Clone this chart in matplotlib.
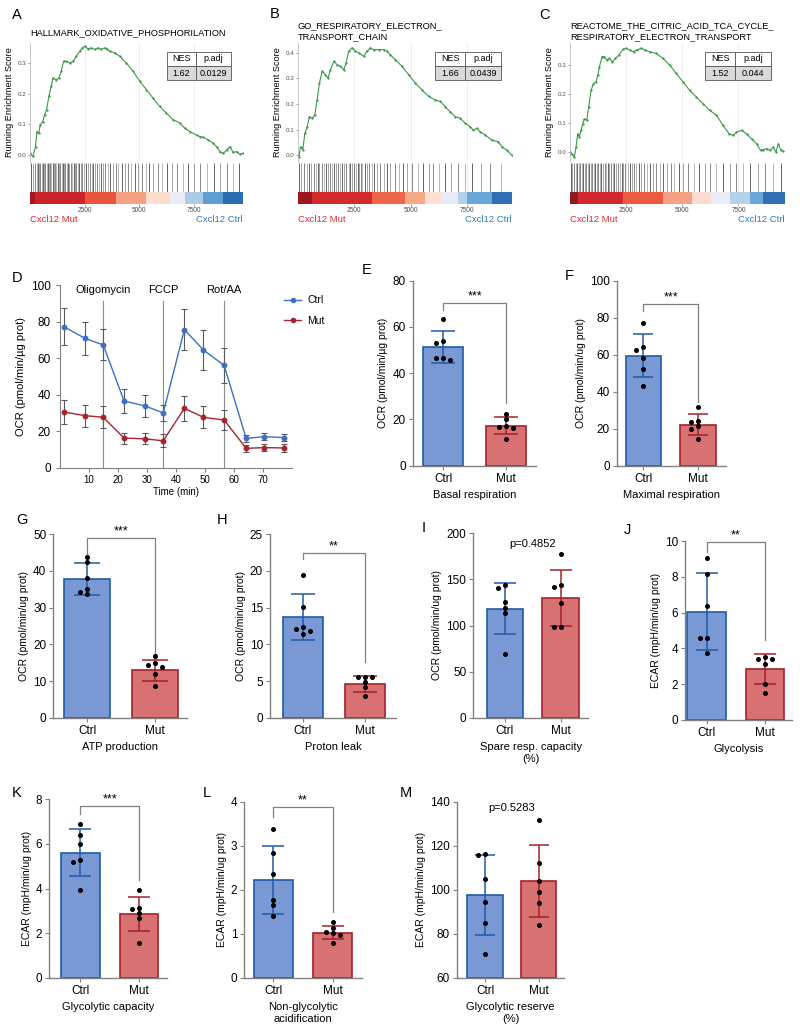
import numpy as np
import matplotlib
matplotlib.use("Agg")
import matplotlib.pyplot as plt
from matplotlib.patches import Rectangle
from matplotlib.lines import Line2D

plt.rcParams['font.family'] = ['Liberation Sans', 'DejaVu Sans']

W, H = 800, 1036
fig = plt.figure(figsize=(W / 100, H / 100), dpi=100)

# ---------------- GSEA data ----------------
A_rank = [0, 130, 252, 313, 400, 466, 589, 665, 760, 864, 971, 1047, 1200, 1323, 1430, 1537, 1659, 1812,
          1965, 2118, 2271, 2393, 2500, 2653, 2806, 2959, 3111, 3264, 3417, 3524, 3647, 3876, 4106, 4411,
          4717, 5023, 5329, 5635, 5940, 6246, 6552, 6858, 7087, 7316, 7622, 7775, 7928, 8157, 8387, 8540,
          8693, 8846, 8998, 9151, 9304, 9457, 9610, 9732]
A_es = [0.005, -0.005, 0.027, 0.076, 0.071, 0.098, 0.109, 0.131, 0.147, 0.191, 0.224, 0.251, 0.245, 0.251,
        0.273, 0.305, 0.305, 0.300, 0.305, 0.322, 0.338, 0.349, 0.354, 0.346, 0.349, 0.344, 0.349, 0.344,
        0.349, 0.346, 0.338, 0.333, 0.322, 0.300, 0.273, 0.240, 0.213, 0.185, 0.158, 0.136, 0.115, 0.104,
        0.087, 0.076, 0.065, 0.060, 0.058, 0.049, 0.038, 0.027, 0.011, 0.005, 0.016, 0.027, 0.008, 0.011,
        0.003, 0.005]
A_hits = [60, 150, 230, 300, 360, 420, 480, 530, 600, 660, 700, 760, 820, 870, 930, 980, 1040, 1100, 1150,
          1210, 1280, 1330, 1390, 1450, 1500, 1560, 1620, 1690, 1750, 1800, 1870, 1930, 2000, 2060, 2120,
          2190, 2250, 2330, 2400, 2480, 2560, 2650, 2730, 2820, 2900, 2990, 3080, 3170, 3260, 3350, 3450,
          3560, 3680, 3800, 3930, 4050, 4200, 4350, 4480, 4640, 4800, 4950, 5120, 5300, 5450, 5650, 5850,
          6050, 6250, 6500, 6750, 7000, 7250, 7500, 7800, 8100, 8400, 8700, 9000, 9300, 9550]
A_edges = [0, 250, 2500, 3950, 5300, 6400, 7090, 7900, 8815, 9750]
A_colors = ['#a8161f', '#cc2229', '#e9553d', '#f4a283', '#fcdccb', '#e8ecf6', '#abcce4', '#5d9ed3', '#2a6db3']

B_rank = [0, 37, 111, 214, 302, 406, 509, 627, 745, 848, 951, 1069, 1217, 1335, 1438, 1586, 1733, 1881, 2028,
          2131, 2249, 2397, 2544, 2692, 2913, 3060, 3208, 3355, 3577, 3798, 3945, 4093, 4314, 4609, 4904,
          5199, 5494, 5789, 6084, 6305, 6527, 6748, 6969, 7190, 7412, 7633, 7780, 7928, 8075, 8296, 8591,
          8886, 9034, 9255, 9476]
B_es = [0.0, -0.007, 0.033, 0.020, 0.085, 0.111, 0.151, 0.144, 0.157, 0.216, 0.282, 0.328, 0.315, 0.302,
        0.334, 0.367, 0.354, 0.348, 0.334, 0.361, 0.407, 0.420, 0.407, 0.400, 0.387, 0.407, 0.420, 0.413,
        0.413, 0.413, 0.407, 0.393, 0.374, 0.348, 0.315, 0.282, 0.256, 0.230, 0.216, 0.210, 0.190, 0.170,
        0.151, 0.144, 0.125, 0.111, 0.098, 0.105, 0.092, 0.079, 0.059, 0.052, 0.033, 0.020, 0.000]
B_hits = [40, 120, 260, 380, 470, 560, 700, 790, 880, 950, 1050, 1150, 1250, 1330, 1420, 1500, 1600, 1700,
          1780, 1850, 1950, 2050, 2150, 2250, 2320, 2400, 2480, 2560, 2640, 2700, 2780, 2860, 2950, 3050,
          3150, 3260, 3380, 3500, 3650, 3800, 3950, 4100, 4300, 4500, 4650, 4850, 5050, 5300, 5550, 5800,
          6000, 6250, 6500, 6800, 7100, 7400, 7700, 8100, 8500, 9000]
B_edges = [0, 627, 3282, 4727, 5642, 6350, 7087, 7485, 8591, 9476]
B_colors = ['#9e1620', '#d42a2e', '#ef6548', '#f7a889', '#fde0d2', '#e6ebf5', '#b2d0e6', '#6aa6d8', '#2f6fb4']

C_rank = [0, 89, 193, 268, 342, 417, 491, 565, 640, 744, 833, 937, 1042, 1161, 1235, 1310, 1429, 1533, 1637,
          1756, 1875, 2024, 2173, 2351, 2500, 2649, 2827, 2976, 3170, 3318, 3542, 3839, 4137, 4435, 4732,
          5030, 5327, 5625, 5923, 6220, 6518, 6815, 7083, 7262, 7411, 7634, 7857, 8080, 8304, 8482, 8601,
          8750, 8899, 9048, 9167, 9271, 9375, 9494]
C_es = [0.0, -0.008, -0.017, 0.017, 0.063, 0.052, 0.075, 0.098, 0.115, 0.110, 0.156, 0.213, 0.236, 0.242,
        0.265, 0.294, 0.329, 0.329, 0.317, 0.323, 0.311, 0.323, 0.334, 0.354, 0.358, 0.352, 0.346, 0.352,
        0.358, 0.352, 0.346, 0.340, 0.323, 0.300, 0.271, 0.242, 0.213, 0.190, 0.167, 0.144, 0.127, 0.092,
        0.063, 0.058, 0.069, 0.075, 0.063, 0.046, 0.029, 0.006, 0.008, 0.012, 0.006, 0.017, 0.000, 0.029,
        0.008, 0.003]
C_hits = [30, 100, 180, 250, 330, 400, 460, 520, 590, 650, 720, 790, 850, 920, 990, 1060, 1130, 1200, 1260,
          1330, 1400, 1470, 1540, 1610, 1680, 1750, 1820, 1900, 1980, 2060, 2140, 2220, 2300, 2380, 2470,
          2560, 2660, 2760, 2860, 2960, 3070, 3180, 3300, 3420, 3550, 3700, 3850, 4000, 4150, 4300, 4480,
          4650, 4850, 5050, 5250, 5500, 5750, 6000, 6250, 6500, 6800, 7100, 7400, 7700, 8000, 8350, 8700,
          9050, 9400]
C_edges = [0, 342, 2351, 4137, 5446, 6295, 7113, 8006, 8601, 9568]
C_colors = ['#8e1a22', '#d3272d', '#ee5a40', '#f5a184', '#fbdcd0', '#e9edf6', '#b5d2e8', '#6aa6d8', '#2f6fb4']

nes_values = ['1.62', '1.66', '1.52']
padj_values = ['0.0129', '0.0439', '0.044']

# ---------------- Seahorse time course ----------------
D_time = [1.3, 8.6, 14.9, 22.1, 29.3, 35.6, 42.9, 49.4, 56.6, 64.2, 70.4, 77.3]
D_ctrl = [77.2, 70.8, 67.2, 36.5, 33.8, 30.0, 75.6, 64.5, 56.0, 16.0, 17.0, 16.5]
D_ctrl_sd = [10.0, 9.0, 8.5, 6.5, 6.0, 4.5, 11.0, 11.0, 9.5, 2.0, 2.0, 2.0]
D_mut = [30.5, 28.5, 27.6, 16.2, 15.8, 14.7, 32.5, 27.6, 26.1, 10.6, 11.0, 10.8]
D_mut_sd = [6.4, 6.0, 6.0, 3.0, 3.0, 3.5, 7.0, 6.0, 5.5, 2.0, 2.0, 2.0]
inject_time = [14.9, 35.6, 56.6]
inject_names = ['Oligomycin', 'FCCP', 'Rot/AA']

# ---------------- bar panels ----------------
groups = ['Ctrl', 'Mut']
E_ctrl = [63.3, 53.9, 52.9, 46.4, 46.4, 45.7]
E_mut = [22.2, 20.0, 17.3, 16.9, 16.4, 11.5]
E_mean, E_sd = [51.3, 17.3], [6.8, 3.8]
F_ctrl = [76.9, 64.3, 62.5, 58.4, 52.4, 43.1]
F_mut = [31.5, 24.3, 23.6, 21.6, 19.6, 14.4]
F_mean, F_sd = [59.5, 22.2], [11.5, 5.7]
G_ctrl = [43.9, 42.5, 38.0, 35.1, 34.4, 33.7]
G_mut = [16.8, 14.8, 14.5, 13.7, 11.8, 8.6]
G_mean, G_sd = [37.8, 12.9], [4.4, 2.8]
H_ctrl = [19.5, 15.1, 12.3, 12.1, 11.8, 11.4]
H_mut = [5.6, 5.6, 5.5, 4.9, 4.2, 3.0]
H_mean, H_sd = [13.7, 4.6], [3.1, 1.1]
I_ctrl = [143.9, 141.0, 125.9, 118.6, 113.2, 68.7]
I_mut = [177.2, 143.9, 142.1, 124.8, 98.7, 98.3]
I_mean, I_sd = [118.3, 130.2], [27.3, 30.5]
J_ctrl = [9.03, 8.14, 6.39, 4.56, 4.56, 3.76]
J_mut = [3.54, 3.41, 3.41, 3.11, 2.01, 1.53]
J_mean, J_sd = [6.05, 2.83], [2.15, 0.84]
K_ctrl = [6.89, 6.40, 5.98, 5.28, 5.20, 3.93]
K_mut = [3.93, 3.14, 3.08, 2.88, 2.66, 1.54]
K_mean, K_sd = [5.6, 2.85], [1.05, 0.77]
L_ctrl = [3.37, 2.83, 2.35, 1.76, 1.65, 1.40]
L_mut = [1.26, 1.12, 1.05, 1.01, 0.97, 0.80]
L_mean, L_sd = [2.22, 1.02], [0.77, 0.15]
M_ctrl = [116.1, 115.8, 104.8, 94.5, 84.7, 70.6]
M_mut = [131.7, 112.0, 104.1, 98.8, 94.1, 83.9]
M_mean, M_sd = [97.6, 103.9], [18.0, 16.5]

BLUE_F, BLUE_E = '#7a98d3', '#1f5aa6'
RED_F, RED_E = '#d87272', '#a3202a'
GRAY = '#808080'


def px_axes(l, t, r, b):
    return fig.add_axes([l / W, 1 - b / H, (r - l) / W, (b - t) / H])


def fig_text(x, y, s, **kw):
    fig.text(x / W, 1 - y / H, s, **kw)


def letter(x, y, s):
    fig_text(x, y, s, fontsize=10.5, ha='center', va='center')


def rect_px(l, t, r, b, fc):
    fig.patches.append(Rectangle((l / W, 1 - b / H), (r - l) / W, (b - t) / H, transform=fig.transFigure,
                                 facecolor=fc, edgecolor='#555555', lw=0.6))


def gsea(l, r, rank, es, hits, edges, colors, ylim, yticks, xmax, title, tbl, nes, padj):
    ax = px_axes(l, 43, r, 162)
    for v in (2500, 5000, 7500):
        ax.axvline(v, color='#ebebeb', lw=0.6, zorder=0)
    ax.plot(rank, es, color='#3b9a48', lw=0.8, marker='.', ms=1.3)
    ax.set_xlim(0, xmax)
    ax.set_ylim(*ylim)
    ax.set_yticks(yticks)
    ax.set_yticklabels([f'{v:.1f}' for v in yticks])
    ax.set_xticks([])
    for s in ('top', 'right', 'bottom'):
        ax.spines[s].set_visible(False)
    ax.spines['left'].set_color('#b0b0b0')
    ax.spines['left'].set_linewidth(0.5)
    ax.tick_params(axis='y', labelsize=4.5, length=1.5, width=0.4, colors='#4d4d4d', pad=1)
    ax.set_ylabel('Running Enrichment Score', fontsize=6.6, labelpad=3)

    hx = px_axes(l, 163, r, 192)
    for v in (2500, 5000, 7500):
        hx.axvline(v, color='#ebebeb', lw=0.6, zorder=0)
    alphas = [0.85, 0.5, 0.65, 0.4]
    for i, h in enumerate(hits):
        hx.vlines(h, 0, 1, color='black', lw=0.5, alpha=alphas[i % 4])
    hx.set_xlim(0, xmax)
    hx.set_ylim(0, 1)
    hx.axis('off')

    cx = px_axes(l, 192, r, 204)
    for a, b, c in zip(edges[:-1], edges[1:], colors):
        cx.axvspan(a, b, color=c, lw=0)
    cx.set_xlim(0, xmax)
    cx.set_yticks([])
    for s in cx.spines.values():
        s.set_visible(False)
    cx.set_xticks([2500, 5000, 7500])
    cx.tick_params(axis='x', labelsize=4.7, length=1.5, width=0.4, colors='#4d4d4d', pad=1)

    for i, line in enumerate(title):
        fig_text(l, 26 + 11 * i if len(title) > 1 else 33, line, fontsize=6.7, va='center', ha='left')

    tl, tr = tbl
    tm = (tl + tr) / 2 - 3
    rect_px(tl, 52, tm, 66, 'white')
    rect_px(tm, 52, tr, 66, 'white')
    rect_px(tl, 66, tm, 80, '#d9d9d9')
    rect_px(tm, 66, tr, 80, '#d9d9d9')
    fig_text((tl + tm) / 2, 59, 'NES', fontsize=6.5, ha='center', va='center')
    fig_text((tm + tr) / 2, 59, 'p.adj', fontsize=6.5, ha='center', va='center')
    fig_text((tl + tm) / 2, 73, nes, fontsize=6.5, ha='center', va='center')
    fig_text((tm + tr) / 2, 73, padj, fontsize=6.5, ha='center', va='center')

    fig_text(l, 220, 'Cxcl12 Mut', fontsize=6.8, color='#e3262a', ha='left', va='center')
    fig_text(r, 220, 'Cxcl12 Ctrl', fontsize=6.8, color='#2d7cc2', ha='right', va='center')


gsea(30, 243, A_rank, A_es, A_hits, A_edges, A_colors, (-0.023, 0.365), [0.0, 0.1, 0.2, 0.3], 9750,
     ['HALLMARK_OXIDATIVE_PHOSPHORILATION'], (167, 231), nes_values[0], padj_values[0])
gsea(298, 512, B_rank, B_es, B_hits, B_edges, B_colors, (-0.027, 0.439), [0.0, 0.1, 0.2, 0.3, 0.4], 9490,
     ['GO_RESPIRATORY_ELECTRON_', 'TRANSPORT_CHAIN'], (435, 501), nes_values[1], padj_values[1])
gsea(570, 785, C_rank, C_es, C_hits, C_edges, C_colors, (-0.034, 0.376), [0.0, 0.1, 0.2, 0.3], 9570,
     ['REACTOME_THE_CITRIC_ACID_TCA_CYCLE_', 'RESPIRATORY_ELECTRON_TRANSPORT'], (705, 771),
     nes_values[2], padj_values[2])
letter(17, 15, 'A')
letter(275, 14, 'B')
letter(545, 15, 'C')

# ---------------- D ----------------
ax = px_axes(60, 285, 292, 467.7)
for t0, name in zip(inject_time, inject_names):
    ax.plot([t0, t0], [0, 91], color='#8c8c8c', lw=0.8, zorder=0)
    ax.text(t0, 97, name, fontsize=8, ha='center', va='center')
ax.errorbar(D_time, D_ctrl, yerr=D_ctrl_sd, color='#3d70c4', ecolor='#5a5a5a', elinewidth=0.8,
            capsize=2.5, capthick=0.8, marker='o', ms=3.2, lw=1, label='Ctrl')
ax.errorbar(D_time, D_mut, yerr=D_mut_sd, color='#a8232b', ecolor='#5a5a5a', elinewidth=0.8,
            capsize=2.5, capthick=0.8, marker='o', ms=3.2, lw=1, label='Mut')
ax.set_xlim(0, 80)
ax.set_ylim(0, 100)
ax.set_xticks([10, 20, 30, 40, 50, 60, 70])
ax.set_yticks([0, 20, 40, 60, 80, 100])
for s in ('top', 'right'):
    ax.spines[s].set_visible(False)
for s in ('left', 'bottom'):
    ax.spines[s].set_color(GRAY)
ax.tick_params(axis='y', labelsize=8.5, color=GRAY, length=3)
ax.tick_params(axis='x', labelsize=7, color=GRAY, length=3, pad=2)
ax.set_xlabel('Time (min)', fontsize=7, labelpad=2)
ax.set_ylabel('OCR (pmol/min/µg prot)', fontsize=8)
handles = [Line2D([], [], color='#3d70c4', marker='o', ms=3, lw=1),
           Line2D([], [], color='#a8232b', marker='o', ms=3, lw=1)]
fig.legend(handles, ['Ctrl', 'Mut'], loc='upper left', bbox_to_anchor=(275 / W, 1 - 286 / H), frameon=False,
           fontsize=7.5, handlelength=1.6, labelspacing=1.0, handletextpad=0.6)
letter(17, 278, 'D')


def swarm(ax, x0, vals, pxy, pxx):
    placed = []
    out = []
    for v in sorted(vals, reverse=True):
        for off in (0, -7, 7, -14, 14):
            if all(abs((v - pv) * pxy) > 4.5 or abs(off - po) > 6 for pv, po in placed):
                break
        placed.append((v, off))
        out.append((x0 + off / pxx, v))
    xs, ys = zip(*out)
    ax.plot(xs, ys, 'o', color='black', ms=2.6, zorder=4, clip_on=False)


def bar_panel(box, xlim, width, ylim, yticks, ctrl, mut, mean, sd, ylabel, xlabel, bracket=None, stars=None,
              ptext=None):
    l, t, r, b = box
    ax = px_axes(l, t, r, b)
    base = ylim[0]
    pxy = (b - t) / (ylim[1] - ylim[0])
    pxx = (r - l) / (xlim[1] - xlim[0])
    ax.bar([0, 1], [m - base for m in mean], bottom=base, width=width, color=[BLUE_F, RED_F],
           edgecolor=[BLUE_E, RED_E], linewidth=1.2, zorder=1)
    cap = width * pxx * 0.29 / 1.389
    for i, c in enumerate([BLUE_E, RED_E]):
        ax.errorbar(i, mean[i], yerr=sd[i], color=c, capsize=cap, elinewidth=1.1, capthick=1.1, zorder=3)
    swarm(ax, 0, ctrl, pxy, pxx)
    swarm(ax, 1, mut, pxy, pxx)
    if bracket:
        top, lo0, lo1 = bracket
        ax.plot([0, 0, 1, 1], [lo0, top, top, lo1], color=GRAY, lw=0.9, zorder=2)
        ax.text(0.5, top + (ylim[1] - ylim[0]) * 0.035, stars, fontsize=9, ha='center', va='center')
    if ptext:
        ax.text(0.5, ptext[1], ptext[0], fontsize=8, ha='center', va='center')
    ax.set_xlim(*xlim)
    ax.set_ylim(*ylim)
    ax.set_yticks(yticks)
    ax.set_xticks([0, 1])
    ax.set_xticklabels(groups)
    for s in ('top', 'right'):
        ax.spines[s].set_visible(False)
    for s in ('left', 'bottom'):
        ax.spines[s].set_color(GRAY)
        ax.spines[s].set_linewidth(1)
    ax.tick_params(labelsize=8.5, color=GRAY, length=3, pad=2)
    ax.set_ylabel(ylabel, fontsize=7.5, labelpad=3)
    ax.set_xlabel(xlabel, fontsize=8, labelpad=4)
    return ax


OCR = 'OCR (pmol/min/\u00b5g prot)'
OCRu = 'OCR (pmol/min/ug prot)'
ECAR = 'ECAR (mpH/min/ug prot)'

bar_panel((412.7, 280.7, 536, 465.7), (-0.49, 1.48), 0.64, (0, 80), [0, 20, 40, 60, 80], E_ctrl, E_mut,
          E_mean, E_sd, OCR, 'Basal respiration', (70.2, 67.3, 27), '***')
bar_panel((616.7, 280.7, 725.7, 465.7), (-0.49, 1.51), 0.65, (0, 100), [0, 20, 40, 60, 80, 100], F_ctrl,
          F_mut, F_mean, F_sd, OCRu, 'Maximal respiration', (87.4, 83.6, 34.6), '***')
bar_panel((53.3, 534.3, 186.7, 717.7), (-0.5, 1.47), 0.68, (0, 50), [0, 10, 20, 30, 40, 50], G_ctrl, G_mut,
          G_mean, G_sd, OCRu, 'ATP production', (48.9, 44.5, 17.5), '***')
bar_panel((270, 534.3, 396, 717.7), (-0.52, 1.49), 0.64, (0, 25), [0, 5, 10, 15, 20, 25], H_ctrl, H_mut,
          H_mean, H_sd, OCRu, 'Proton leak', (22.5, 21.7, 7.6), '**')
bar_panel((473.3, 533.3, 588.3, 717.7), (-0.57, 1.5), 0.66, (0, 200), [0, 50, 100, 150, 200], I_ctrl, I_mut,
          I_mean, I_sd, OCRu, 'Spare resp. capacity\n(%)', ptext=('p=0.4852', 188))
bar_panel((685, 541, 791.7, 720), (-0.37, 1.46), 0.66, (0, 10), [0, 2, 4, 6, 8, 10], J_ctrl, J_mut,
          J_mean, J_sd, ECAR, 'Glycolysis', (9.96, 9.4, 4.47), '**')
bar_panel((49.3, 799.3, 166.7, 977.7), (-0.53, 1.47), 0.66, (0, 8), [0, 2, 4, 6, 8], K_ctrl, K_mut,
          K_mean, K_sd, ECAR, 'Glycolytic capacity', (7.7, 7.32, 4.38), '***')
bar_panel((244.3, 801.7, 361.7, 977.7), (-0.49, 1.49), 0.65, (0, 4), [0, 1, 2, 3, 4], L_ctrl, L_mut,
          L_mean, L_sd, ECAR, 'Non-glycolytic\nacidification', (3.89, 3.66, 1.5), '**')
bar_panel((456.7, 801.7, 564.3, 977.7), (-0.53, 1.48), 0.66, (60, 140), [60, 80, 100, 120, 140], M_ctrl,
          M_mut, M_mean, M_sd, ECAR, 'Glycolytic reserve\n(%)', ptext=('p=0.5283', 137))

letter(367, 270, 'E')
letter(569, 276, 'F')
letter(22, 520, 'G')
letter(222, 520, 'H')
letter(424, 528, 'I')
letter(627, 530, 'J')
letter(17, 793, 'K')
letter(207, 793, 'L')
letter(406, 793, 'M')

fig.savefig('out.png', dpi=100)
